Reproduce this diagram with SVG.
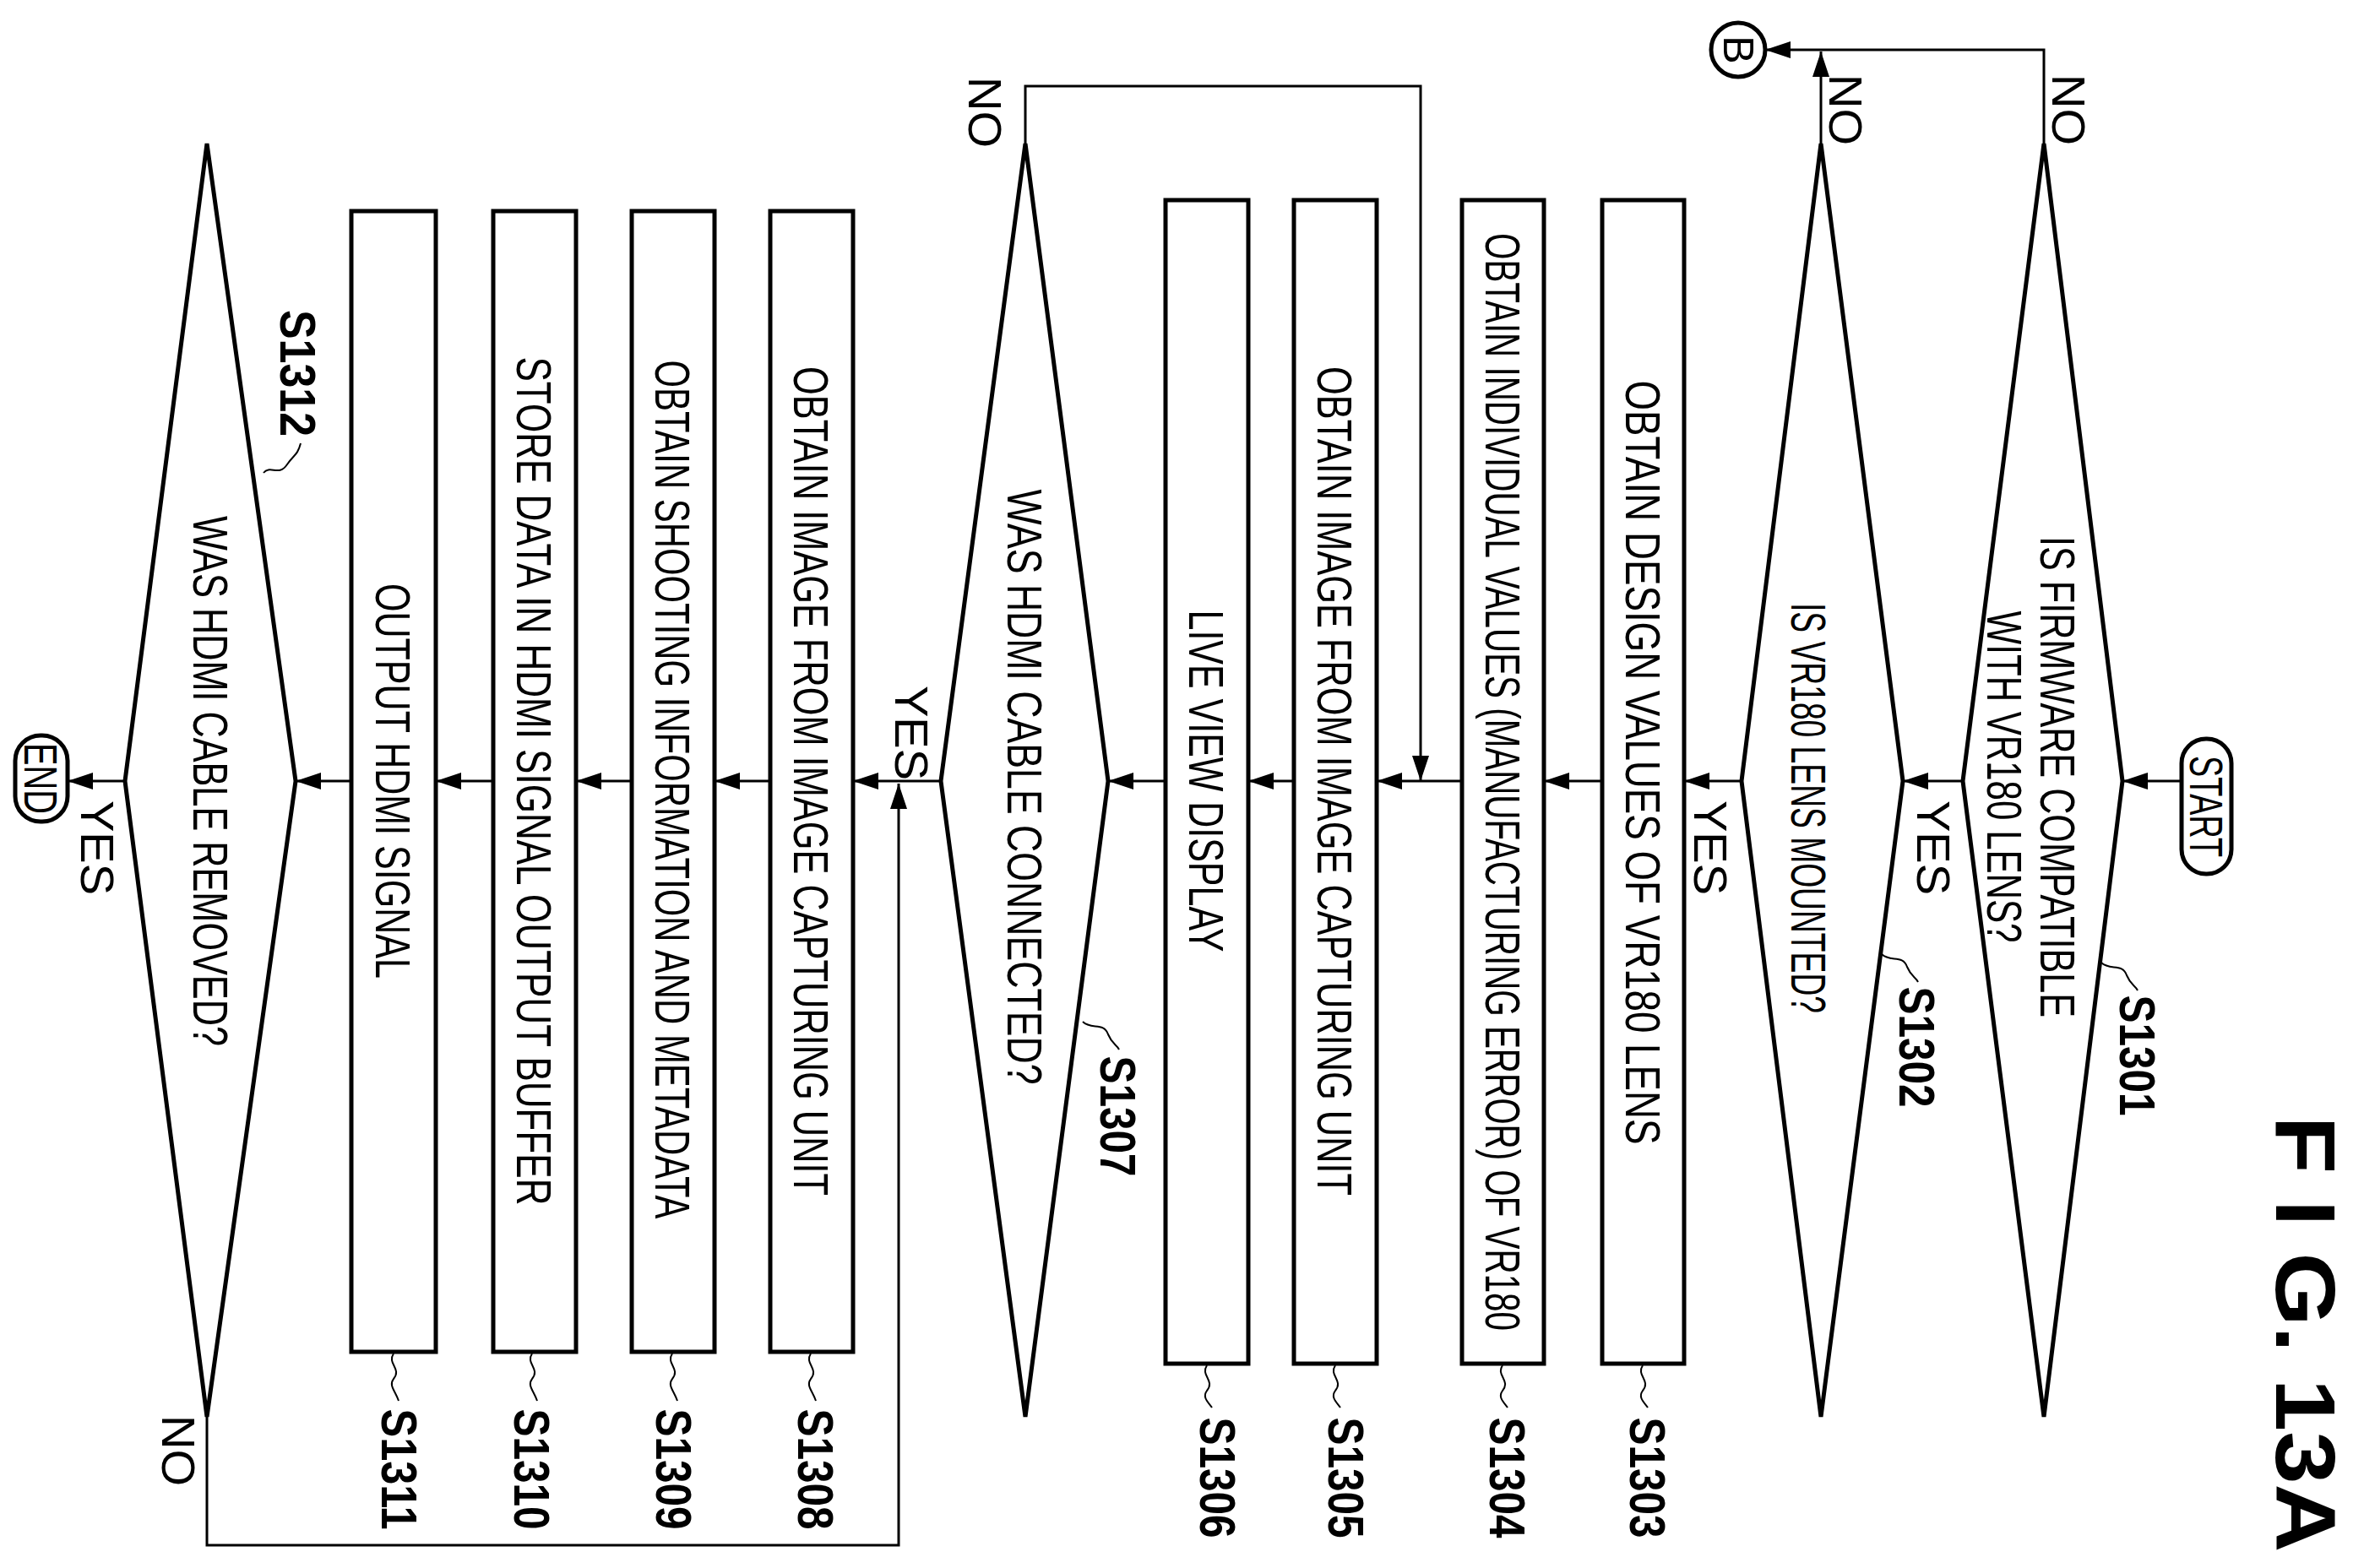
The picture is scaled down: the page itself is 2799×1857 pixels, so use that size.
<svg xmlns="http://www.w3.org/2000/svg" width="2799" height="1857" viewBox="0 0 2799 1857">
<style>
.s{fill:none;stroke:#000;stroke-width:5}
.c{fill:none;stroke:#000;stroke-width:3}
.t{font-family:"Liberation Sans",Arial,sans-serif;font-size:58px;fill:#000}
.l{font-family:"Liberation Sans",Arial,sans-serif;font-size:60px;font-weight:bold;fill:#000}
.y{font-family:"Liberation Sans",Arial,sans-serif;font-size:56px;fill:#000}
.q{fill:none;stroke:#000;stroke-width:2}
</style>
<defs>
<marker id="b" markerWidth="30" markerHeight="20" refX="30" refY="10" orient="auto" markerUnits="userSpaceOnUse" viewBox="0 0 30 20">
<path d="M0,0 L30,10 L0,20 Z" fill="#000"/>
</marker>
</defs>
<rect width="2799" height="1857" fill="#fff"/>
<text class="l" style="font-size:100px" transform="translate(2695,1580) rotate(90)" text-anchor="middle" textLength="517" lengthAdjust="spacingAndGlyphs">F I G. 13A</text>

<g id="start"><rect class="s" x="2583" y="875" width="59" height="160" rx="29"/><text class="y" transform="translate(2593,955) rotate(90)" text-anchor="middle" textLength="120" lengthAdjust="spacingAndGlyphs">START</text></g>
<g id="end"><rect class="s" x="18" y="871" width="62" height="102" rx="30"/><text class="y" transform="translate(29,922) rotate(90)" text-anchor="middle" textLength="84" lengthAdjust="spacingAndGlyphs">END</text></g>
<g id="B"><circle class="s" cx="2058" cy="59" r="32"/><text class="y" style="font-size:50px" transform="translate(2041,59) rotate(90)" text-anchor="middle">B</text></g>

<g id="S1301"><polygon class="s" points="2420,170 2513,925 2420,1678 2324,925"/>
<text class="t" transform="translate(2416,920) rotate(90)" text-anchor="middle" textLength="570" lengthAdjust="spacingAndGlyphs">IS FIRMWARE COMPATIBLE</text>
<text class="t" transform="translate(2353,920) rotate(90)" text-anchor="middle" textLength="393" lengthAdjust="spacingAndGlyphs">WITH VR180 LENS?</text>
<path class="q" d="M2488,1140 c10,10 25,0 30,15 c5,12 10,12 13,18"/>
<text class="l" transform="translate(2510,1250) rotate(90)" text-anchor="middle" textLength="143" lengthAdjust="spacingAndGlyphs">S1301</text></g>

<g id="S1302"><polygon class="s" points="2156,170 2253,925 2156,1678 2062,925"/>
<text class="t" transform="translate(2121,957) rotate(90)" text-anchor="middle" textLength="486" lengthAdjust="spacingAndGlyphs">IS VR180 LENS MOUNTED?</text>
<path class="q" d="M2228,1130 c10,10 25,0 30,15 c5,12 10,12 13,18"/>
<text class="l" transform="translate(2249,1240) rotate(90)" text-anchor="middle" textLength="143" lengthAdjust="spacingAndGlyphs">S1302</text></g>

<g id="S1303"><rect class="s" x="1897" y="237" width="97" height="1378"/>
<text class="t" transform="translate(1925,903) rotate(90)" text-anchor="middle" textLength="905" lengthAdjust="spacingAndGlyphs">OBTAIN DESIGN VALUES OF VR180 LENS</text>
<path class="q" d="M1945,1617 c-8,12 10,18 0,30 c-6,8 2,14 6,20"/>
<text class="l" transform="translate(1930,1750) rotate(90)" text-anchor="middle" textLength="143" lengthAdjust="spacingAndGlyphs">S1303</text></g>

<g id="S1304"><rect class="s" x="1731" y="237" width="97" height="1378"/>
<text class="t" transform="translate(1759,926) rotate(90)" text-anchor="middle" textLength="1300" lengthAdjust="spacingAndGlyphs">OBTAIN INDIVIDUAL VALUES (MANUFACTURING ERROR) OF VR180</text>
<path class="q" d="M1779,1617 c-8,12 10,18 0,30 c-6,8 2,14 6,20"/>
<text class="l" transform="translate(1764,1750) rotate(90)" text-anchor="middle" textLength="143" lengthAdjust="spacingAndGlyphs">S1304</text></g>

<g id="S1305"><rect class="s" x="1532" y="237" width="98" height="1378"/>
<text class="t" transform="translate(1560,925) rotate(90)" text-anchor="middle" textLength="982" lengthAdjust="spacingAndGlyphs">OBTAIN IMAGE FROM IMAGE CAPTURING UNIT</text>
<path class="q" d="M1581,1617 c-8,12 10,18 0,30 c-6,8 2,14 6,20"/>
<text class="l" transform="translate(1573,1750) rotate(90)" text-anchor="middle" textLength="143" lengthAdjust="spacingAndGlyphs">S1305</text></g>

<g id="S1306"><rect class="s" x="1380" y="237" width="98" height="1378"/>
<text class="t" transform="translate(1408,925) rotate(90)" text-anchor="middle" textLength="405" lengthAdjust="spacingAndGlyphs">LIVE VIEW DISPLAY</text>
<path class="q" d="M1429,1617 c-8,12 10,18 0,30 c-6,8 2,14 6,20"/>
<text class="l" transform="translate(1421,1750) rotate(90)" text-anchor="middle" textLength="143" lengthAdjust="spacingAndGlyphs">S1306</text></g>

<g id="S1307"><polygon class="s" points="1214,170 1312,925 1214,1678 1114,925"/>
<text class="t" transform="translate(1193,932) rotate(90)" text-anchor="middle" textLength="705" lengthAdjust="spacingAndGlyphs">WAS HDMI CABLE CONNECTED?</text>
<path class="q" d="M1282,1210 c10,10 25,0 30,15 c5,12 10,12 13,18"/>
<text class="l" transform="translate(1303,1322) rotate(90)" text-anchor="middle" textLength="143" lengthAdjust="spacingAndGlyphs">S1307</text></g>

<g id="S1308"><rect class="s" x="912" y="250" width="98" height="1351"/>
<text class="t" transform="translate(940,925) rotate(90)" text-anchor="middle" textLength="982" lengthAdjust="spacingAndGlyphs">OBTAIN IMAGE FROM IMAGE CAPTURING UNIT</text>
<path class="q" d="M960,1603 c-8,12 10,18 0,30 c-6,8 2,14 6,26"/>
<text class="l" transform="translate(945,1740) rotate(90)" text-anchor="middle" textLength="143" lengthAdjust="spacingAndGlyphs">S1308</text></g>

<g id="S1309"><rect class="s" x="748" y="250" width="98" height="1351"/>
<text class="t" transform="translate(776,935) rotate(90)" text-anchor="middle" textLength="1017" lengthAdjust="spacingAndGlyphs">OBTAIN SHOOTING INFORMATION AND METADATA</text>
<path class="q" d="M796,1603 c-8,12 10,18 0,30 c-6,8 2,14 6,26"/>
<text class="l" transform="translate(777,1740) rotate(90)" text-anchor="middle" textLength="143" lengthAdjust="spacingAndGlyphs">S1309</text></g>

<g id="S1310"><rect class="s" x="584" y="250" width="98" height="1351"/>
<text class="t" transform="translate(612,925) rotate(90)" text-anchor="middle" textLength="1005" lengthAdjust="spacingAndGlyphs">STORE DATA IN HDMI SIGNAL OUTPUT BUFFER</text>
<path class="q" d="M630,1603 c-8,12 10,18 0,30 c-6,8 2,14 6,26"/>
<text class="l" transform="translate(609,1740) rotate(90)" text-anchor="middle" textLength="143" lengthAdjust="spacingAndGlyphs">S1310</text></g>

<g id="S1311"><rect class="s" x="416" y="250" width="100" height="1351"/>
<text class="t" transform="translate(445,925) rotate(90)" text-anchor="middle" textLength="468" lengthAdjust="spacingAndGlyphs">OUTPUT HDMI SIGNAL</text>
<path class="q" d="M466,1603 c-8,12 10,18 0,30 c-6,8 2,14 6,26"/>
<text class="l" transform="translate(452,1740) rotate(90)" text-anchor="middle" textLength="143" lengthAdjust="spacingAndGlyphs">S1311</text></g>

<g id="S1312"><polygon class="s" points="245,170 350,925 245,1678 148,925"/>
<text class="t" transform="translate(229,925) rotate(90)" text-anchor="middle" textLength="628" lengthAdjust="spacingAndGlyphs">WAS HDMI CABLE REMOVED?</text>
<path class="q" d="M312,560 c8,-10 18,5 28,-10 c8,-12 12,-10 16,-25"/>
<text class="l" transform="translate(332,442) rotate(90)" text-anchor="middle" textLength="150" lengthAdjust="spacingAndGlyphs">S1312</text></g>

<g id="connectors">
<line class="c" x1="2583" y1="925" x2="2513" y2="925" marker-end="url(#b)"/>
<line class="c" x1="2324" y1="925" x2="2253" y2="925" marker-end="url(#b)"/>
<line class="c" x1="2062" y1="925" x2="1994" y2="925" marker-end="url(#b)"/>
<line class="c" x1="1897" y1="925" x2="1828" y2="925" marker-end="url(#b)"/>
<line class="c" x1="1731" y1="925" x2="1630" y2="925" marker-end="url(#b)"/>
<line class="c" x1="1532" y1="925" x2="1478" y2="925" marker-end="url(#b)"/>
<line class="c" x1="1380" y1="925" x2="1312" y2="925" marker-end="url(#b)"/>
<line class="c" x1="1114" y1="925" x2="1010" y2="925" marker-end="url(#b)"/>
<line class="c" x1="912" y1="925" x2="846" y2="925" marker-end="url(#b)"/>
<line class="c" x1="748" y1="925" x2="682" y2="925" marker-end="url(#b)"/>
<line class="c" x1="584" y1="925" x2="516" y2="925" marker-end="url(#b)"/>
<line class="c" x1="416" y1="925" x2="350" y2="925" marker-end="url(#b)"/>
<line class="c" x1="148" y1="925" x2="80" y2="925" marker-end="url(#b)"/>
<polyline class="c" points="2420,170 2420,59 2090,59" marker-end="url(#b)"/>
<line class="c" x1="2156" y1="170" x2="2156" y2="61" marker-end="url(#b)"/>
<polyline class="c" points="1214,170 1214,102 1682,102 1682,925" marker-end="url(#b)"/>
<polyline class="c" points="245,1678 245,1830 1064,1830 1064,928" marker-end="url(#b)"/>
<text class="y" transform="translate(2270,1004) rotate(90)" text-anchor="middle">YES</text>
<text class="y" transform="translate(2006,1004) rotate(90)" text-anchor="middle">YES</text>
<text class="y" transform="translate(1060,868) rotate(90)" text-anchor="middle">YES</text>
<text class="y" transform="translate(96,1004) rotate(90)" text-anchor="middle">YES</text>
<text class="y" transform="translate(2430,130) rotate(90)" text-anchor="middle">NO</text>
<text class="y" transform="translate(2166,130) rotate(90)" text-anchor="middle">NO</text>
<text class="y" transform="translate(1147,133) rotate(90)" text-anchor="middle">NO</text>
<text class="y" transform="translate(192,1718) rotate(90)" text-anchor="middle">NO</text>
</g>
</svg>
